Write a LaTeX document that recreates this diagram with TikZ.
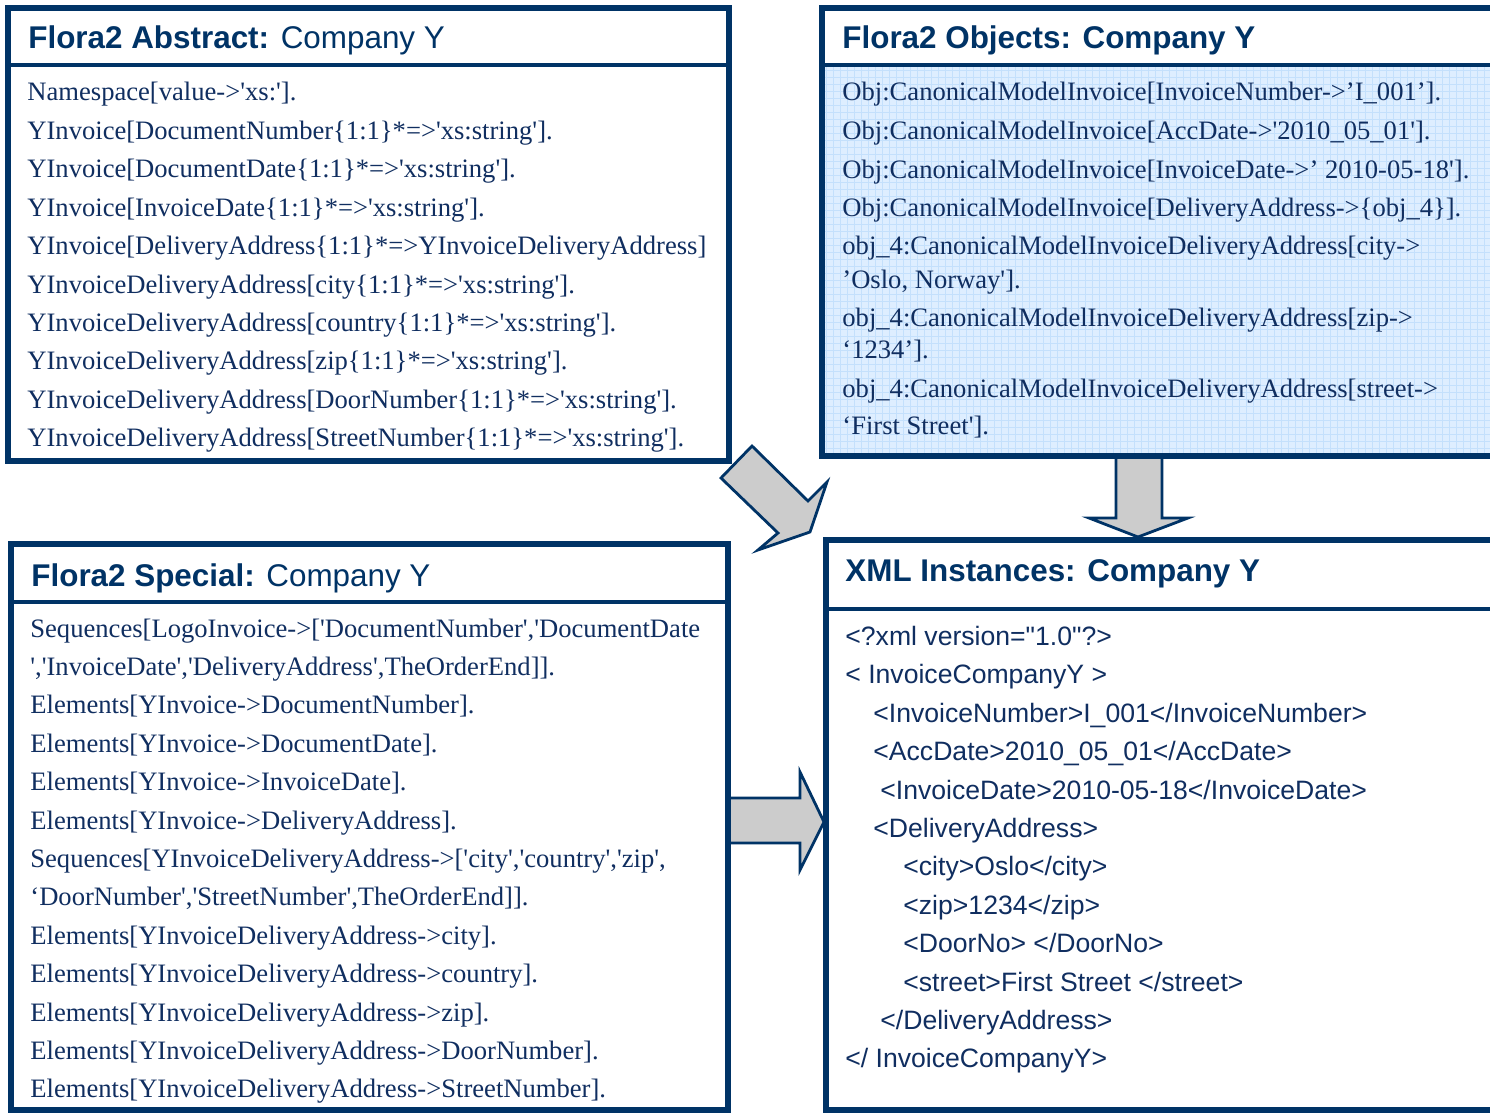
\documentclass[tikz,border=0pt]{standalone}
\usepackage{fontspec}
\usetikzlibrary{positioning}
\newfontfamily\flserif{Liberation Serif}
\newfontfamily\flsans{Liberation Sans}
\definecolor{flnavy}{RGB}{0,51,102}
\definecolor{fltext}{RGB}{16,46,96}
\definecolor{flgray}{RGB}{204,204,204}
\definecolor{flblue}{RGB}{222,238,255}
\definecolor{flgrid}{RGB}{196,224,252}
\tikzstyle{flframestyle}=[draw=flnavy,line width=3pt,line join=miter]
\tikzstyle{flrulestyle}=[draw=flnavy,line width=1.8pt]
\tikzstyle{flgridstyle}=[draw=flgrid,line width=0.3pt]
\tikzstyle{flarrowstyle}=[draw=flnavy,fill=flgray,line width=1.4pt,line join=miter]
\tikzstyle{fltitlestyle}=[anchor=base west,inner sep=0pt,text=flnavy,font=\flsans\fontsize{15.7}{18}\selectfont]
\tikzstyle{flcodestyle}=[anchor=base west,inner sep=0pt,text=fltext,font=\flserif\fontsize{13.3}{16}\selectfont]
\tikzstyle{flxmlstyle}=[anchor=base west,inner sep=0pt,text=fltext,font=\flsans\fontsize{13.3}{16}\selectfont]
\newcommand{\flframe}[6]{ \draw[flframestyle] (#2,#3) rectangle (#4,#5); \draw[flrulestyle] (#2,#6) -- (#4,#6); \coordinate (#1) at (#2,#3); }
\newcommand{\fltitle}[4]{ \node[fltitlestyle] (#1) at (#2,#3) {#4}; }
\newcommand{\flline}[5]{ \node[#4] (#1) at (#2,#3) {#5}; }

\begin{document}
\begin{tikzpicture}[x=0.5pt,y=-0.5pt]
\clip (0,0) rectangle (1490,1113); %
\fill[white] (0,0) rectangle (1490,1113); %
% block arrows between the boxes
\draw[flarrowstyle] (752,446) -- (808,501) -- (827,482) -- (810,532) -- (758,550) -- (778,533) -- (721,478) -- cycle; %
\draw[flarrowstyle] (1116,456) -- (1162,456) -- (1162,518) -- (1188,518) -- (1138,537) -- (1089,518) -- (1116,518) -- cycle; %
\draw[flarrowstyle] (728,798) -- (800,798) -- (800,772) -- (824,822) -- (800,870) -- (800,843) -- (728,843) -- cycle; %
% objects box background
\fill[flblue] (822,65) rectangle (1500,456); %
\foreach \gx in {826,833,...,1490} { \draw[flgridstyle] (\gx,67) -- (\gx,454); } %
\foreach \gy in {70,77,...,450} { \draw[flgridstyle] (824,\gy) -- (1490,\gy); } %
% frames
\flframe{abstract}{8}{8.5}{729}{461}{65} %
\flframe{objects}{822}{8.5}{1500}{456}{65} %
\flframe{special}{10.5}{544}{727.5}{1109.5}{602} %
\flframe{xml}{825.5}{539.5}{1500}{1109.5}{609} %
% titles
\fltitle{abstractTitle}{28}{49}{\bfseries Flora2 Abstract: \mdseries Company Y} %
\fltitle{objectsTitle}{842}{49}{\bfseries Flora2 Objects: Company Y} %
\fltitle{specialTitle}{31}{586}{\bfseries Flora2 Special: \mdseries Company Y} %
\fltitle{xmlTitle}{845}{581}{\bfseries XML Instances: Company Y} %
% abstract lines
\flline{absA}{27}{101}{flcodestyle}{Namespace[value->'xs:'].} %
\flline{absB}{27}{139.4}{flcodestyle}{YInvoice[DocumentNumber\{1:1\}*=>'xs:string'].} %
\flline{absC}{27}{177.8}{flcodestyle}{YInvoice[DocumentDate\{1:1\}*=>'xs:string'].} %
\flline{absD}{27}{216.2}{flcodestyle}{YInvoice[InvoiceDate\{1:1\}*=>'xs:string'].} %
\flline{absE}{27}{254.6}{flcodestyle}{YInvoice[DeliveryAddress\{1:1\}*=>YInvoiceDeliveryAddress]} %
\flline{absF}{27}{293}{flcodestyle}{YInvoiceDeliveryAddress[city\{1:1\}*=>'xs:string'].} %
\flline{absG}{27}{331.4}{flcodestyle}{YInvoiceDeliveryAddress[country\{1:1\}*=>'xs:string'].} %
\flline{absH}{27}{369.8}{flcodestyle}{YInvoiceDeliveryAddress[zip\{1:1\}*=>'xs:string'].} %
\flline{absI}{27}{408.2}{flcodestyle}{YInvoiceDeliveryAddress[DoorNumber\{1:1\}*=>'xs:string'].} %
\flline{absJ}{27}{446.6}{flcodestyle}{YInvoiceDeliveryAddress[StreetNumber\{1:1\}*=>'xs:string'].} %
% objects lines
\flline{objA}{842}{101}{flcodestyle}{Obj:CanonicalModelInvoice[InvoiceNumber->’I\_001’].} %
\flline{objB}{842}{140}{flcodestyle}{Obj:CanonicalModelInvoice[AccDate->'2010\_05\_01'].} %
\flline{objC}{842}{178}{flcodestyle}{Obj:CanonicalModelInvoice[InvoiceDate->’ 2010-05-18'].} %
\flline{objD}{842}{217}{flcodestyle}{Obj:CanonicalModelInvoice[DeliveryAddress->\{obj\_4\}].} %
\flline{objE}{842}{255}{flcodestyle}{obj\_4:CanonicalModelInvoiceDeliveryAddress[city->} %
\flline{objF}{842}{288}{flcodestyle}{’Oslo, Norway'].} %
\flline{objG}{842}{326}{flcodestyle}{obj\_4:CanonicalModelInvoiceDeliveryAddress[zip->} %
\flline{objH}{842}{358}{flcodestyle}{‘1234’].} %
\flline{objI}{842}{397}{flcodestyle}{obj\_4:CanonicalModelInvoiceDeliveryAddress[street->} %
\flline{objJ}{842}{434}{flcodestyle}{‘First Street'].} %
% special lines
\flline{speA}{30}{637}{flcodestyle}{Sequences[LogoInvoice->['DocumentNumber','DocumentDate} %
\flline{speB}{30}{675.4}{flcodestyle}{','InvoiceDate','DeliveryAddress',TheOrderEnd]].} %
\flline{speC}{30}{713.8}{flcodestyle}{Elements[YInvoice->DocumentNumber].} %
\flline{speD}{30}{752.2}{flcodestyle}{Elements[YInvoice->DocumentDate].} %
\flline{speE}{30}{790.6}{flcodestyle}{Elements[YInvoice->InvoiceDate].} %
\flline{speF}{30}{829}{flcodestyle}{Elements[YInvoice->DeliveryAddress].} %
\flline{speG}{30}{867.4}{flcodestyle}{Sequences[YInvoiceDeliveryAddress->['city','country','zip',} %
\flline{speH}{30}{905.8}{flcodestyle}{‘DoorNumber','StreetNumber',TheOrderEnd]].} %
\flline{speI}{30}{944.2}{flcodestyle}{Elements[YInvoiceDeliveryAddress->city].} %
\flline{speJ}{30}{982.6}{flcodestyle}{Elements[YInvoiceDeliveryAddress->country].} %
\flline{speK}{30}{1021}{flcodestyle}{Elements[YInvoiceDeliveryAddress->zip].} %
\flline{speL}{30}{1059.4}{flcodestyle}{Elements[YInvoiceDeliveryAddress->DoorNumber].} %
\flline{speM}{30}{1097.8}{flcodestyle}{Elements[YInvoiceDeliveryAddress->StreetNumber].} %
% xml lines
\flline{xmlA}{845}{645.5}{flxmlstyle}{<?xml version="1.0"?>} %
\flline{xmlB}{845}{683.9}{flxmlstyle}{< InvoiceCompanyY >} %
\flline{xmlC}{873}{722.3}{flxmlstyle}{<InvoiceNumber>I\_001</InvoiceNumber>} %
\flline{xmlD}{873}{760.7}{flxmlstyle}{<AccDate>2010\_05\_01</AccDate>} %
\flline{xmlE}{880}{799.1}{flxmlstyle}{<InvoiceDate>2010-05-18</InvoiceDate>} %
\flline{xmlF}{873}{837.5}{flxmlstyle}{<DeliveryAddress>} %
\flline{xmlG}{903}{875.9}{flxmlstyle}{<city>Oslo</city>} %
\flline{xmlH}{903}{914.3}{flxmlstyle}{<zip>1234</zip>} %
\flline{xmlI}{903}{952.7}{flxmlstyle}{<DoorNo> </DoorNo>} %
\flline{xmlJ}{903}{991.1}{flxmlstyle}{<street>First Street </street>} %
\flline{xmlK}{880}{1029.5}{flxmlstyle}{</DeliveryAddress>} %
\flline{xmlL}{845}{1067.9}{flxmlstyle}{</ InvoiceCompanyY>} %
\end{tikzpicture}
\end{document}
